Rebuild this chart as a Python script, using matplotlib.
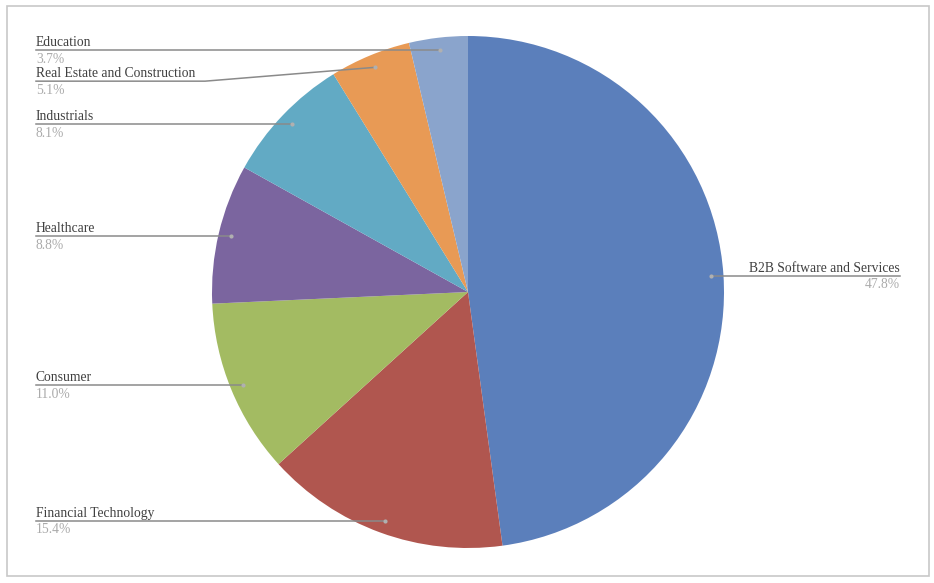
import numpy as np
import matplotlib.pyplot as plt
from matplotlib.patches import Rectangle

# sector shares (%), clockwise from 12 o'clock
sectors = ["B2B Software and Services", "Financial Technology", "Consumer",
           "Healthcare", "Industrials", "Real Estate and Construction", "Education"]
shares = [47.8, 15.4, 11.0, 8.8, 8.1, 5.1, 3.7]
colors = ["#5b7fbb", "#b0564f", "#a3bb62", "#7b659f", "#62aac4", "#e89a55", "#8aa4cc"]

W, H = 934, 583
CX, CY, R = 468, 292, 256  # pie centre / radius in pixels

fig = plt.figure(figsize=(W / 100, H / 100), dpi=100)
ax = fig.add_axes([0, 0, 1, 1])

# outer frame
ax.add_patch(Rectangle((7, 7), 922, 570, transform=None, fill=False,
                       edgecolor="#c8c8c8", lw=1.2, zorder=0))

ax.pie(shares, colors=colors, startangle=90, counterclock=False, radius=1,
       wedgeprops=dict(linewidth=0), normalize=True, frame=True)
ax.set_xlim(-CX / R, (W - CX) / R)
ax.set_ylim(-(H - CY) / R, CY / R)
ax.axis("off")
ax.set_aspect("auto")

font = dict(family="Liberation Serif", fontsize=9.8)
name_col = "#404040"
pct_col = "#ababab"
line_col = "#8a8a8a"

total = sum(shares)
cum = np.cumsum([0] + shares[:-1])
mids = 90 - (cum + np.array(shares) / 2) / total * 360

left_x = (36 - CX) / R
right_x = (900 - CX) / R
elbow_x = (205 - CX) / R

pts = []
for name, s, a in zip(sectors, shares, mids):
    px = 0.95 * np.cos(np.radians(a))
    py = 0.95 * np.sin(np.radians(a))
    pts.append((name, s, px, py))

# left side: push lines apart from top down
left = sorted([p for p in pts if p[2] < 0], key=lambda p: -p[3])
prev = None
placed = []
for name, s, px, py in left:
    ly = py if prev is None else min(py, prev - 0.12)
    prev = ly
    placed.append((name, s, px, py, ly, "left"))
for p in pts:
    if p[2] >= 0:
        placed.append((p[0], p[1], p[2], p[3], p[3], "right"))

for name, s, px, py, ly, side in placed:
    if side == "left":
        if abs(ly - py) > 1e-6:
            xs, ys = [left_x, elbow_x, px], [ly, ly, py]
        else:
            xs, ys = [left_x, px], [ly, ly]
        tx, ha = left_x, "left"
    else:
        xs, ys = [px, right_x], [py, py]
        tx, ha = right_x, "right"
    ax.plot(xs, ys, color=line_col, lw=1.1, zorder=3)
    ax.plot([px], [py], "o", color="#b0b0b0", ms=3, mec="none", zorder=4)
    ax.text(tx, ly + 0.004, name, ha=ha, va="bottom", color=name_col, **font)
    ax.text(tx, ly - 0.011, f"{s:.1f}%", ha=ha, va="top", color=pct_col, **font)

fig.savefig("out.png", dpi=100, facecolor="white")
